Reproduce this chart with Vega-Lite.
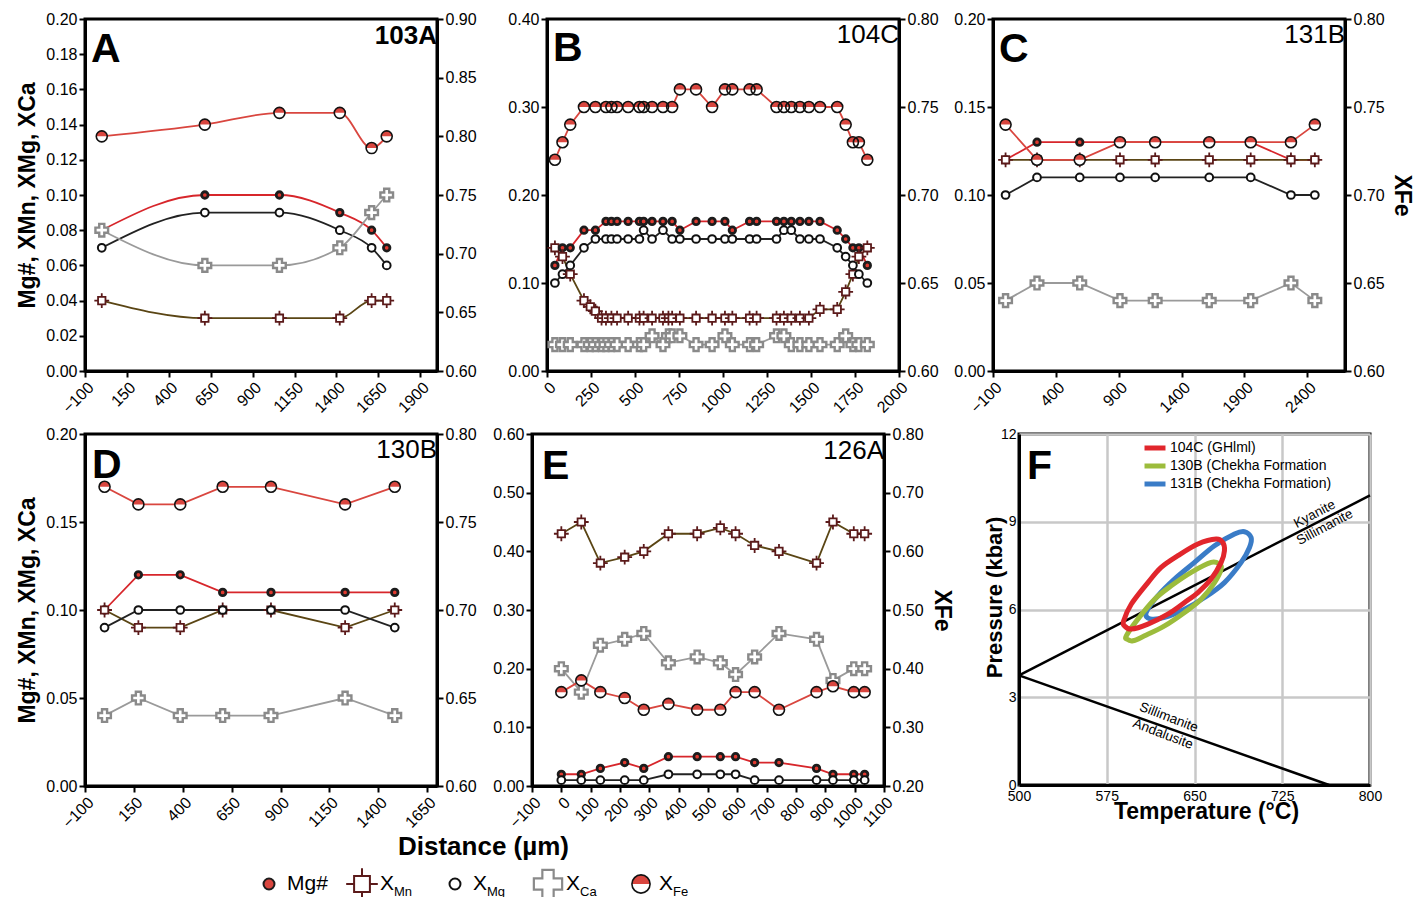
{
"$schema":"https://vega.github.io/schema/vega-lite/v6.json",
"background":"white",
"padding":{"left":15,"top":9,"right":0,"bottom":0},
"config":{
 "font":"Liberation Sans",
 "view":{"stroke":"black","strokeWidth":3},
 "axis":{"domainColor":"black","domainWidth":3,"tickColor":"black","tickWidth":2,"tickSize":6,"labelFontSize":16,"labelColor":"black","labelPadding":2,"labelFlush":false,"labelOverlap":false,"titleColor":"black","titleFontWeight":"bold","titleFontSize":23,"grid":false}
},
"datasets":{
"prof":[
{"s":"A","d":0,"mg":0.08,"mn":0.04,"xmg":0.07,"ca":0.08,"fe":0.80},
{"s":"A","d":615,"mg":0.10,"mn":0.03,"xmg":0.09,"ca":0.06,"fe":0.81},
{"s":"A","d":1060,"mg":0.10,"mn":0.03,"xmg":0.09,"ca":0.06,"fe":0.82},
{"s":"A","d":1420,"mg":0.09,"mn":0.03,"xmg":0.08,"ca":0.07,"fe":0.82},
{"s":"A","d":1610,"mg":0.08,"mn":0.04,"xmg":0.07,"ca":0.09,"fe":0.79},
{"s":"A","d":1700,"mg":0.07,"mn":0.04,"xmg":0.06,"ca":0.10,"fe":0.80},
{"s":"B","d":45,"mg":0.12,"mn":0.14,"xmg":0.10,"ca":0.03,"fe":0.72},
{"s":"B","d":88,"mg":0.14,"mn":0.13,"xmg":0.11,"ca":0.03,"fe":0.73},
{"s":"B","d":132,"mg":0.14,"mn":0.11,"xmg":0.12,"ca":0.03,"fe":0.74},
{"s":"B","d":210,"mg":0.16,"mn":0.08,"xmg":0.14,"ca":0.03,"fe":0.75},
{"s":"B","d":246,"mn":0.073,"ca":0.03},
{"s":"B","d":275,"mg":0.16,"mn":0.068,"xmg":0.15,"ca":0.03,"fe":0.75},
{"s":"B","d":310,"mn":0.06,"ca":0.03},
{"s":"B","d":335,"mg":0.17,"mn":0.06,"xmg":0.15,"ca":0.03,"fe":0.75},
{"s":"B","d":366,"mg":0.17,"mn":0.06,"xmg":0.15,"ca":0.03,"fe":0.75},
{"s":"B","d":398,"mg":0.17,"mn":0.06,"xmg":0.15,"ca":0.03,"fe":0.75},
{"s":"B","d":461,"mg":0.17,"mn":0.06,"xmg":0.15,"ca":0.03,"fe":0.75},
{"s":"B","d":525,"mg":0.17,"mn":0.06,"xmg":0.15,"ca":0.03,"fe":0.75},
{"s":"B","d":549,"mg":0.17,"mn":0.06,"xmg":0.16,"ca":0.03,"fe":0.75},
{"s":"B","d":597,"mg":0.17,"mn":0.06,"xmg":0.15,"ca":0.04,"fe":0.75},
{"s":"B","d":659,"mg":0.17,"mn":0.06,"xmg":0.16,"ca":0.03,"fe":0.75},
{"s":"B","d":690,"mn":0.06,"ca":0.04},
{"s":"B","d":711,"mg":0.17,"mn":0.06,"xmg":0.15,"ca":0.04,"fe":0.75},
{"s":"B","d":755,"mg":0.16,"mn":0.06,"xmg":0.15,"ca":0.04,"fe":0.76},
{"s":"B","d":847,"mg":0.17,"mn":0.06,"xmg":0.15,"ca":0.03,"fe":0.76},
{"s":"B","d":938,"mg":0.17,"mn":0.06,"xmg":0.15,"ca":0.03,"fe":0.75},
{"s":"B","d":1011,"mg":0.17,"mn":0.06,"xmg":0.15,"ca":0.04,"fe":0.76},
{"s":"B","d":1053,"mg":0.16,"mn":0.06,"xmg":0.15,"ca":0.03,"fe":0.76},
{"s":"B","d":1151,"mg":0.17,"mn":0.06,"xmg":0.15,"ca":0.03,"fe":0.76},
{"s":"B","d":1191,"mg":0.17,"mn":0.06,"xmg":0.15,"ca":0.03,"fe":0.76},
{"s":"B","d":1304,"mg":0.17,"mn":0.06,"xmg":0.15,"ca":0.04,"fe":0.75},
{"s":"B","d":1346,"mg":0.17,"mn":0.06,"xmg":0.16,"ca":0.04,"fe":0.75},
{"s":"B","d":1388,"mg":0.17,"mn":0.06,"xmg":0.16,"ca":0.03,"fe":0.75},
{"s":"B","d":1437,"mg":0.17,"mn":0.06,"xmg":0.15,"ca":0.03,"fe":0.75},
{"s":"B","d":1488,"mg":0.17,"mn":0.06,"xmg":0.15,"ca":0.03,"fe":0.75},
{"s":"B","d":1551,"mg":0.17,"mn":0.07,"xmg":0.15,"ca":0.03,"fe":0.75},
{"s":"B","d":1649,"mg":0.16,"mn":0.07,"xmg":0.14,"ca":0.03,"fe":0.75},
{"s":"B","d":1697,"mg":0.15,"mn":0.09,"xmg":0.13,"ca":0.04,"fe":0.74},
{"s":"B","d":1738,"mg":0.14,"mn":0.11,"xmg":0.12,"ca":0.03,"fe":0.73},
{"s":"B","d":1772,"mg":0.14,"mn":0.13,"xmg":0.11,"ca":0.03,"fe":0.73},
{"s":"B","d":1820,"mg":0.12,"mn":0.14,"xmg":0.10,"ca":0.03,"fe":0.72},
{"s":"C","d":0,"mg":0.12,"mn":0.12,"xmg":0.10,"ca":0.04,"fe":0.74},
{"s":"C","d":250,"mg":0.13,"mn":0.12,"xmg":0.11,"ca":0.05,"fe":0.72},
{"s":"C","d":590,"mg":0.13,"mn":0.12,"xmg":0.11,"ca":0.05,"fe":0.72},
{"s":"C","d":910,"mg":0.13,"mn":0.12,"xmg":0.11,"ca":0.04,"fe":0.73},
{"s":"C","d":1190,"mg":0.13,"mn":0.12,"xmg":0.11,"ca":0.04,"fe":0.73},
{"s":"C","d":1620,"mg":0.13,"mn":0.12,"xmg":0.11,"ca":0.04,"fe":0.73},
{"s":"C","d":1950,"mg":0.13,"mn":0.12,"xmg":0.11,"ca":0.04,"fe":0.73},
{"s":"C","d":2270,"mg":0.12,"mn":0.12,"xmg":0.10,"ca":0.05,"fe":0.73},
{"s":"C","d":2460,"mg":0.12,"mn":0.12,"xmg":0.10,"ca":0.04,"fe":0.74},
{"s":"D","d":0,"mg":0.10,"mn":0.10,"xmg":0.09,"ca":0.04,"fe":0.77},
{"s":"D","d":173,"mg":0.12,"mn":0.09,"xmg":0.10,"ca":0.05,"fe":0.76},
{"s":"D","d":387,"mg":0.12,"mn":0.09,"xmg":0.10,"ca":0.04,"fe":0.76},
{"s":"D","d":604,"mg":0.11,"mn":0.10,"xmg":0.10,"ca":0.04,"fe":0.77},
{"s":"D","d":851,"mg":0.11,"mn":0.10,"xmg":0.10,"ca":0.04,"fe":0.77},
{"s":"D","d":1230,"mg":0.11,"mn":0.09,"xmg":0.10,"ca":0.05,"fe":0.76},
{"s":"D","d":1484,"mg":0.11,"mn":0.10,"xmg":0.09,"ca":0.04,"fe":0.77},
{"s":"E","d":0,"mg":0.02,"mn":0.43,"xmg":0.01,"ca":0.20,"fe":0.36},
{"s":"E","d":68,"mg":0.02,"mn":0.45,"xmg":0.01,"ca":0.16,"fe":0.38},
{"s":"E","d":133,"mg":0.03,"mn":0.38,"xmg":0.01,"ca":0.24,"fe":0.36},
{"s":"E","d":216,"mg":0.04,"mn":0.39,"xmg":0.01,"ca":0.25,"fe":0.35},
{"s":"E","d":281,"mg":0.03,"mn":0.40,"xmg":0.01,"ca":0.26,"fe":0.33},
{"s":"E","d":365,"mg":0.05,"mn":0.43,"xmg":0.02,"ca":0.21,"fe":0.34},
{"s":"E","d":463,"mg":0.05,"mn":0.43,"xmg":0.02,"ca":0.22,"fe":0.33},
{"s":"E","d":542,"mg":0.05,"mn":0.44,"xmg":0.02,"ca":0.21,"fe":0.33},
{"s":"E","d":594,"mg":0.05,"mn":0.43,"xmg":0.02,"ca":0.19,"fe":0.36},
{"s":"E","d":659,"mg":0.04,"mn":0.41,"xmg":0.01,"ca":0.22,"fe":0.36},
{"s":"E","d":742,"mg":0.04,"mn":0.40,"xmg":0.01,"ca":0.26,"fe":0.33},
{"s":"E","d":870,"mg":0.03,"mn":0.38,"xmg":0.01,"ca":0.25,"fe":0.36},
{"s":"E","d":926,"mg":0.02,"mn":0.45,"xmg":0.01,"ca":0.18,"fe":0.37},
{"s":"E","d":997,"mg":0.02,"mn":0.43,"xmg":0.01,"ca":0.20,"fe":0.36},
{"s":"E","d":1034,"mg":0.02,"mn":0.43,"xmg":0.01,"ca":0.20,"fe":0.36}
],
"pt":[
{"g":"131B (Chekha Formation)","i":0,"T":608.7,"P":5.90},
{"g":"131B (Chekha Formation)","i":1,"T":618.7,"P":6.47},
{"g":"131B (Chekha Formation)","i":2,"T":632.9,"P":7.04},
{"g":"131B (Chekha Formation)","i":3,"T":650.0,"P":7.61},
{"g":"131B (Chekha Formation)","i":4,"T":667.1,"P":8.18},
{"g":"131B (Chekha Formation)","i":5,"T":684.2,"P":8.58},
{"g":"131B (Chekha Formation)","i":6,"T":692.7,"P":8.66},
{"g":"131B (Chekha Formation)","i":7,"T":698.4,"P":8.46},
{"g":"131B (Chekha Formation)","i":8,"T":697.0,"P":8.12},
{"g":"131B (Chekha Formation)","i":9,"T":689.9,"P":7.61},
{"g":"131B (Chekha Formation)","i":10,"T":675.6,"P":6.92},
{"g":"131B (Chekha Formation)","i":11,"T":658.6,"P":6.41},
{"g":"131B (Chekha Formation)","i":12,"T":641.5,"P":6.01},
{"g":"131B (Chekha Formation)","i":13,"T":624.4,"P":5.73},
{"g":"131B (Chekha Formation)","i":14,"T":612.0,"P":5.68},
{"g":"130B (Chekha Formation","i":0,"T":591.7,"P":5.10},
{"g":"130B (Chekha Formation","i":1,"T":601.6,"P":5.67},
{"g":"130B (Chekha Formation","i":2,"T":615.9,"P":6.35},
{"g":"130B (Chekha Formation","i":3,"T":630.1,"P":6.81},
{"g":"130B (Chekha Formation","i":4,"T":647.2,"P":7.27},
{"g":"130B (Chekha Formation","i":5,"T":664.2,"P":7.61},
{"g":"130B (Chekha Formation","i":6,"T":671.4,"P":7.55},
{"g":"130B (Chekha Formation","i":7,"T":672.8,"P":7.38},
{"g":"130B (Chekha Formation","i":8,"T":667.1,"P":6.92},
{"g":"130B (Chekha Formation","i":9,"T":655.7,"P":6.35},
{"g":"130B (Chekha Formation","i":10,"T":641.5,"P":5.90},
{"g":"130B (Chekha Formation","i":11,"T":624.4,"P":5.44},
{"g":"130B (Chekha Formation","i":12,"T":607.3,"P":5.10},
{"g":"130B (Chekha Formation","i":13,"T":597.4,"P":4.93},
{"g":"130B (Chekha Formation","i":14,"T":592.5,"P":4.98},
{"g":"104C (GHlml)","i":0,"T":589.4,"P":5.61},
{"g":"104C (GHlml)","i":1,"T":595.9,"P":6.18},
{"g":"104C (GHlml)","i":2,"T":610.2,"P":6.92},
{"g":"104C (GHlml)","i":3,"T":621.5,"P":7.44},
{"g":"104C (GHlml)","i":4,"T":635.8,"P":7.84},
{"g":"104C (GHlml)","i":5,"T":652.9,"P":8.24},
{"g":"104C (GHlml)","i":6,"T":668.5,"P":8.41},
{"g":"104C (GHlml)","i":7,"T":674.2,"P":8.29},
{"g":"104C (GHlml)","i":8,"T":675.6,"P":8.01},
{"g":"104C (GHlml)","i":9,"T":672.8,"P":7.61},
{"g":"104C (GHlml)","i":10,"T":664.2,"P":7.04},
{"g":"104C (GHlml)","i":11,"T":652.9,"P":6.58},
{"g":"104C (GHlml)","i":12,"T":641.5,"P":6.24},
{"g":"104C (GHlml)","i":13,"T":627.2,"P":5.84},
{"g":"104C (GHlml)","i":14,"T":610.2,"P":5.50},
{"g":"104C (GHlml)","i":15,"T":595.9,"P":5.33},
{"g":"104C (GHlml)","i":16,"T":590.2,"P":5.44}
],
"react":[
{"r":"ky","T":500,"P":3.75},{"r":"ky","T":800,"P":9.9},
{"r":"an","T":500,"P":3.75},{"r":"an","T":765,"P":0}
]
},
"spacing":3,
"vconcat":[
{"spacing":6,"vconcat":[
 {"spacing":12,"hconcat":[
  {"spacing":110,"bounds":"flush","hconcat":[
   {"width":352,"height":352,"resolve":{"scale":{"y":"independent"}},
    "layer":[
     {"layer":[
       {"data":{"name":"prof"},"transform":[{"filter":"datum.s==='A'"},{"fold":["mg","mn","xmg","ca"],"as":["series","v"]},{"filter":"isValid(datum.v)"}],
        "mark":{"type":"line","strokeWidth":1.8,"interpolate":"monotone"},
        "encoding":{
         "x":{"field":"d","type":"quantitative","scale":{"domain":[-100,2000],"nice":false,"zero":false},"axis":{"values":[-100,150,400,650,900,1150,1400,1650,1900],"tickCount":40,"format":"d","labelOverlap":false,"labelAngle":-45,"title":null}},
         "y":{"field":"v","type":"quantitative","scale":{"domain":[0,0.2],"nice":false,"zero":false},"axis":{"values":[0,0.02,0.04,0.06,0.08,0.1,0.12,0.14,0.16,0.18,0.2],"tickCount":40,"format":".2f","labelOverlap":false,"title":"Mg#, XMn, XMg, XCa","titlePadding":6}},
         "detail":{"field":"series","type":"nominal"},"color":{"condition":[{"test":"datum.series==='mg'","value":"#d7262b"},{"test":"datum.series==='mn'","value":"#5a4514"},{"test":"datum.series==='ca'","value":"#9a9a9a"}],"value":"#222222"}}},
       {"data":{"name":"prof"},"transform":[{"filter":"datum.s==='A'"},{"fold":["mg","mn","xmg","ca"],"as":["series","v"]},{"filter":"isValid(datum.v)"}],
        "mark":{"type":"point","filled":true,"opacity":1},
        "encoding":{
         "x":{"field":"d","type":"quantitative"},
         "y":{"field":"v","type":"quantitative"},
         "shape":{"condition":[{"test":"datum.series==='mn'","value":"M-0.5,-0.5H0.5V0.5H-0.5Z M0,-1V-0.5 M0,0.5V1 M-1,0H-0.5 M0.5,0H1"},{"test":"datum.series==='ca'","value":"cross"}],"value":"circle"},
         "fill":{"condition":[{"test":"datum.series==='mg'","value":"#e0392f"}],"value":"white"},
         "stroke":{"condition":[{"test":"datum.series==='mg'","value":"#1c1c1c"},{"test":"datum.series==='mn'","value":"#5b1a1a"},{"test":"datum.series==='ca'","value":"#8a8a8a"}],"value":"#111111"},
         "size":{"condition":[{"test":"datum.series==='mg'","value":42},{"test":"datum.series==='mn'","value":220},{"test":"datum.series==='ca'","value":160}],"value":60},
         "strokeWidth":{"condition":[{"test":"datum.series==='mg'","value":2.8},{"test":"datum.series==='mn'","value":1.8},{"test":"datum.series==='ca'","value":2.4}],"value":2}}},
       {"data":{"values":[{"t":"A"}]},"mark":{"type":"text","fontSize":41,"fontWeight":"bold","align":"left","baseline":"alphabetic","dx":6,"dy":43,"color":"black"},"encoding":{"x":{"datum":-100},"y":{"datum":0.2},"text":{"field":"t"}}},
       {"data":{"values":[{"t":"103A"}]},"mark":{"type":"text","fontSize":26,"fontWeight":"bold","align":"right","baseline":"alphabetic","dy":25,"color":"black"},"encoding":{"x":{"datum":2000},"y":{"datum":0.2},"text":{"field":"t"}}}
      ]},
     {"data":{"name":"prof"},"transform":[{"filter":"datum.s==='A' && isValid(datum.fe)"}],
      "encoding":{"x":{"field":"d","type":"quantitative"},"y":{"field":"fe","type":"quantitative","scale":{"domain":[0.6,0.9],"nice":false,"zero":false},"axis":{"orient":"right","values":[0.6,0.65,0.7,0.75,0.8,0.85,0.9],"tickCount":40,"format":".2f","labelOverlap":false,"title":null}}},
      "layer":[
       {"mark":{"type":"line","color":"#d9463f","strokeWidth":1.8,"interpolate":"monotone"}},
       {"mark":{"type":"point","shape":"circle","filled":true,"color":"white","size":121,"opacity":1}},
       {"mark":{"type":"point","shape":"M-1,0A1,1 0 0 1 1,0Z","filled":true,"color":"#d9463f","size":121,"opacity":1}},
       {"mark":{"type":"point","shape":"circle","filled":false,"color":"#111111","strokeWidth":1.6,"size":121,"opacity":1}}
      ]}
    ]},
   {"width":352,"height":352,"resolve":{"scale":{"y":"independent"}},
    "layer":[
     {"layer":[
       {"data":{"name":"prof"},"transform":[{"filter":"datum.s==='B'"},{"fold":["mg","mn","xmg","ca"],"as":["series","v"]},{"filter":"isValid(datum.v)"}],
        "mark":{"type":"line","strokeWidth":1.8},
        "encoding":{
         "x":{"field":"d","type":"quantitative","scale":{"domain":[0,2000],"nice":false,"zero":false},"axis":{"values":[0,250,500,750,1000,1250,1500,1750,2000],"tickCount":40,"format":"d","labelOverlap":false,"labelAngle":-45,"title":null}},
         "y":{"field":"v","type":"quantitative","scale":{"domain":[0,0.4],"nice":false,"zero":false},"axis":{"values":[0,0.1,0.2,0.3,0.4],"tickCount":40,"format":".2f","labelOverlap":false,"title":null}},
         "detail":{"field":"series","type":"nominal"},"color":{"condition":[{"test":"datum.series==='mg'","value":"#d7262b"},{"test":"datum.series==='mn'","value":"#5a4514"},{"test":"datum.series==='ca'","value":"#9a9a9a"}],"value":"#222222"}}},
       {"data":{"name":"prof"},"transform":[{"filter":"datum.s==='B'"},{"fold":["mg","mn","xmg","ca"],"as":["series","v"]},{"filter":"isValid(datum.v)"}],
        "mark":{"type":"point","filled":true,"opacity":1},
        "encoding":{
         "x":{"field":"d","type":"quantitative"},
         "y":{"field":"v","type":"quantitative"},
         "shape":{"condition":[{"test":"datum.series==='mn'","value":"M-0.5,-0.5H0.5V0.5H-0.5Z M0,-1V-0.5 M0,0.5V1 M-1,0H-0.5 M0.5,0H1"},{"test":"datum.series==='ca'","value":"cross"}],"value":"circle"},
         "fill":{"condition":[{"test":"datum.series==='mg'","value":"#e0392f"}],"value":"white"},
         "stroke":{"condition":[{"test":"datum.series==='mg'","value":"#1c1c1c"},{"test":"datum.series==='mn'","value":"#5b1a1a"},{"test":"datum.series==='ca'","value":"#8a8a8a"}],"value":"#111111"},
         "size":{"condition":[{"test":"datum.series==='mg'","value":42},{"test":"datum.series==='mn'","value":220},{"test":"datum.series==='ca'","value":160}],"value":60},
         "strokeWidth":{"condition":[{"test":"datum.series==='mg'","value":2.8},{"test":"datum.series==='mn'","value":1.8},{"test":"datum.series==='ca'","value":2.4}],"value":2}}},
       {"data":{"values":[{"t":"B"}]},"mark":{"type":"text","fontSize":41,"fontWeight":"bold","align":"left","baseline":"alphabetic","dx":6,"dy":42,"color":"black"},"encoding":{"x":{"datum":0},"y":{"datum":0.4},"text":{"field":"t"}}},
       {"data":{"values":[{"t":"104C"}]},"mark":{"type":"text","fontSize":26,"align":"right","baseline":"alphabetic","dy":24,"color":"black"},"encoding":{"x":{"datum":2000},"y":{"datum":0.4},"text":{"field":"t"}}}
      ]},
     {"data":{"name":"prof"},"transform":[{"filter":"datum.s==='B' && isValid(datum.fe)"}],
      "encoding":{"x":{"field":"d","type":"quantitative"},"y":{"field":"fe","type":"quantitative","scale":{"domain":[0.6,0.8],"nice":false,"zero":false},"axis":{"orient":"right","values":[0.6,0.65,0.7,0.75,0.8],"tickCount":40,"format":".2f","labelOverlap":false,"title":null}}},
      "layer":[
       {"mark":{"type":"line","color":"#d9463f","strokeWidth":1.8}},
       {"mark":{"type":"point","shape":"circle","filled":true,"color":"white","size":121,"opacity":1}},
       {"mark":{"type":"point","shape":"M-1,0A1,1 0 0 1 1,0Z","filled":true,"color":"#d9463f","size":121,"opacity":1}},
       {"mark":{"type":"point","shape":"circle","filled":false,"color":"#111111","strokeWidth":1.6,"size":121,"opacity":1}}
      ]}
    ]}
  ]},
  {"width":352,"height":352,"resolve":{"scale":{"y":"independent"}},
   "layer":[
    {"layer":[
      {"data":{"name":"prof"},"transform":[{"filter":"datum.s==='C'"},{"fold":["mg","mn","xmg","ca"],"as":["series","v"]},{"filter":"isValid(datum.v)"}],
       "mark":{"type":"line","strokeWidth":1.8},
       "encoding":{
        "x":{"field":"d","type":"quantitative","scale":{"domain":[-100,2700],"nice":false,"zero":false},"axis":{"values":[-100,400,900,1400,1900,2400],"tickCount":40,"format":"d","labelOverlap":false,"labelAngle":-45,"title":null}},
        "y":{"field":"v","type":"quantitative","scale":{"domain":[0,0.2],"nice":false,"zero":false},"axis":{"values":[0,0.05,0.1,0.15,0.2],"tickCount":40,"format":".2f","labelOverlap":false,"title":null}},
        "detail":{"field":"series","type":"nominal"},"color":{"condition":[{"test":"datum.series==='mg'","value":"#d7262b"},{"test":"datum.series==='mn'","value":"#5a4514"},{"test":"datum.series==='ca'","value":"#9a9a9a"}],"value":"#222222"}}},
      {"data":{"name":"prof"},"transform":[{"filter":"datum.s==='C'"},{"fold":["mg","mn","xmg","ca"],"as":["series","v"]},{"filter":"isValid(datum.v)"}],
       "mark":{"type":"point","filled":true,"opacity":1},
       "encoding":{
        "x":{"field":"d","type":"quantitative"},
        "y":{"field":"v","type":"quantitative"},
        "shape":{"condition":[{"test":"datum.series==='mn'","value":"M-0.5,-0.5H0.5V0.5H-0.5Z M0,-1V-0.5 M0,0.5V1 M-1,0H-0.5 M0.5,0H1"},{"test":"datum.series==='ca'","value":"cross"}],"value":"circle"},
        "fill":{"condition":[{"test":"datum.series==='mg'","value":"#e0392f"}],"value":"white"},
        "stroke":{"condition":[{"test":"datum.series==='mg'","value":"#1c1c1c"},{"test":"datum.series==='mn'","value":"#5b1a1a"},{"test":"datum.series==='ca'","value":"#8a8a8a"}],"value":"#111111"},
        "size":{"condition":[{"test":"datum.series==='mg'","value":42},{"test":"datum.series==='mn'","value":220},{"test":"datum.series==='ca'","value":160}],"value":60},
        "strokeWidth":{"condition":[{"test":"datum.series==='mg'","value":2.8},{"test":"datum.series==='mn'","value":1.8},{"test":"datum.series==='ca'","value":2.4}],"value":2}}},
      {"data":{"values":[{"t":"C"}]},"mark":{"type":"text","fontSize":41,"fontWeight":"bold","align":"left","baseline":"alphabetic","dx":6,"dy":43,"color":"black"},"encoding":{"x":{"datum":-100},"y":{"datum":0.2},"text":{"field":"t"}}},
      {"data":{"values":[{"t":"131B"}]},"mark":{"type":"text","fontSize":26,"align":"right","baseline":"alphabetic","dy":24,"color":"black"},"encoding":{"x":{"datum":2700},"y":{"datum":0.2},"text":{"field":"t"}}}
     ]},
    {"data":{"name":"prof"},"transform":[{"filter":"datum.s==='C' && isValid(datum.fe)"}],
     "encoding":{"x":{"field":"d","type":"quantitative"},"y":{"field":"fe","type":"quantitative","scale":{"domain":[0.6,0.8],"nice":false,"zero":false},"axis":{"orient":"right","values":[0.6,0.65,0.7,0.75,0.8],"tickCount":40,"format":".2f","labelOverlap":false,"title":"XFe","titlePadding":5}}},
     "layer":[
      {"mark":{"type":"line","color":"#d9463f","strokeWidth":1.8}},
      {"mark":{"type":"point","shape":"circle","filled":true,"color":"white","size":121,"opacity":1}},
      {"mark":{"type":"point","shape":"M-1,0A1,1 0 0 1 1,0Z","filled":true,"color":"#d9463f","size":121,"opacity":1}},
      {"mark":{"type":"point","shape":"circle","filled":false,"color":"#111111","strokeWidth":1.6,"size":121,"opacity":1}}
     ]}
   ]}
 ]},
 {"spacing":27,"hconcat":[
  {"spacing":95,"bounds":"flush","hconcat":[
   {"width":352,"height":352,"resolve":{"scale":{"y":"independent"}},
    "layer":[
     {"layer":[
       {"data":{"name":"prof"},"transform":[{"filter":"datum.s==='D'"},{"fold":["mg","mn","xmg","ca"],"as":["series","v"]},{"filter":"isValid(datum.v)"}],
        "mark":{"type":"line","strokeWidth":1.8},
        "encoding":{
         "x":{"field":"d","type":"quantitative","scale":{"domain":[-100,1700],"nice":false,"zero":false},"axis":{"values":[-100,150,400,650,900,1150,1400,1650],"tickCount":40,"format":"d","labelOverlap":false,"labelAngle":-45,"title":"Distance (µm)","titleX":398,"titleY":47,"titleFontSize":26}},
         "y":{"field":"v","type":"quantitative","scale":{"domain":[0,0.2],"nice":false,"zero":false},"axis":{"values":[0,0.05,0.1,0.15,0.2],"tickCount":40,"format":".2f","labelOverlap":false,"title":"Mg#, XMn, XMg, XCa","titlePadding":6}},
         "detail":{"field":"series","type":"nominal"},"color":{"condition":[{"test":"datum.series==='mg'","value":"#d7262b"},{"test":"datum.series==='mn'","value":"#5a4514"},{"test":"datum.series==='ca'","value":"#9a9a9a"}],"value":"#222222"}}},
       {"data":{"name":"prof"},"transform":[{"filter":"datum.s==='D'"},{"fold":["mg","mn","xmg","ca"],"as":["series","v"]},{"filter":"isValid(datum.v)"}],
        "mark":{"type":"point","filled":true,"opacity":1},
        "encoding":{
         "x":{"field":"d","type":"quantitative"},
         "y":{"field":"v","type":"quantitative"},
         "shape":{"condition":[{"test":"datum.series==='mn'","value":"M-0.5,-0.5H0.5V0.5H-0.5Z M0,-1V-0.5 M0,0.5V1 M-1,0H-0.5 M0.5,0H1"},{"test":"datum.series==='ca'","value":"cross"}],"value":"circle"},
         "fill":{"condition":[{"test":"datum.series==='mg'","value":"#e0392f"}],"value":"white"},
         "stroke":{"condition":[{"test":"datum.series==='mg'","value":"#1c1c1c"},{"test":"datum.series==='mn'","value":"#5b1a1a"},{"test":"datum.series==='ca'","value":"#8a8a8a"}],"value":"#111111"},
         "size":{"condition":[{"test":"datum.series==='mg'","value":42},{"test":"datum.series==='mn'","value":220},{"test":"datum.series==='ca'","value":160}],"value":60},
         "strokeWidth":{"condition":[{"test":"datum.series==='mg'","value":2.8},{"test":"datum.series==='mn'","value":1.8},{"test":"datum.series==='ca'","value":2.4}],"value":2}}},
       {"data":{"values":[{"t":"D"}]},"mark":{"type":"text","fontSize":41,"fontWeight":"bold","align":"left","baseline":"alphabetic","dx":7,"dy":44,"color":"black"},"encoding":{"x":{"datum":-100},"y":{"datum":0.2},"text":{"field":"t"}}},
       {"data":{"values":[{"t":"130B"}]},"mark":{"type":"text","fontSize":26,"align":"right","baseline":"alphabetic","dy":24,"color":"black"},"encoding":{"x":{"datum":1700},"y":{"datum":0.2},"text":{"field":"t"}}}
      ]},
     {"data":{"name":"prof"},"transform":[{"filter":"datum.s==='D' && isValid(datum.fe)"}],
      "encoding":{"x":{"field":"d","type":"quantitative"},"y":{"field":"fe","type":"quantitative","scale":{"domain":[0.6,0.8],"nice":false,"zero":false},"axis":{"orient":"right","values":[0.6,0.65,0.7,0.75,0.8],"tickCount":40,"format":".2f","labelOverlap":false,"title":null}}},
      "layer":[
       {"mark":{"type":"line","color":"#d9463f","strokeWidth":1.8}},
       {"mark":{"type":"point","shape":"circle","filled":true,"color":"white","size":121,"opacity":1}},
       {"mark":{"type":"point","shape":"M-1,0A1,1 0 0 1 1,0Z","filled":true,"color":"#d9463f","size":121,"opacity":1}},
       {"mark":{"type":"point","shape":"circle","filled":false,"color":"#111111","strokeWidth":1.6,"size":121,"opacity":1}}
      ]}
    ]},
   {"width":352,"height":352,"resolve":{"scale":{"y":"independent"}},
    "layer":[
     {"layer":[
       {"data":{"name":"prof"},"transform":[{"filter":"datum.s==='E'"},{"fold":["mg","mn","xmg","ca"],"as":["series","v"]},{"filter":"isValid(datum.v)"}],
        "mark":{"type":"line","strokeWidth":1.8},
        "encoding":{
         "x":{"field":"d","type":"quantitative","scale":{"domain":[-100,1100],"nice":false,"zero":false},"axis":{"values":[-100,0,100,200,300,400,500,600,700,800,900,1000,1100],"tickCount":40,"format":"d","labelOverlap":false,"labelAngle":-45,"title":null}},
         "y":{"field":"v","type":"quantitative","scale":{"domain":[0,0.6],"nice":false,"zero":false},"axis":{"values":[0,0.1,0.2,0.3,0.4,0.5,0.6],"tickCount":40,"format":".2f","labelOverlap":false,"title":null}},
         "detail":{"field":"series","type":"nominal"},"color":{"condition":[{"test":"datum.series==='mg'","value":"#d7262b"},{"test":"datum.series==='mn'","value":"#5a4514"},{"test":"datum.series==='ca'","value":"#9a9a9a"}],"value":"#222222"}}},
       {"data":{"name":"prof"},"transform":[{"filter":"datum.s==='E'"},{"fold":["mg","mn","xmg","ca"],"as":["series","v"]},{"filter":"isValid(datum.v)"}],
        "mark":{"type":"point","filled":true,"opacity":1},
        "encoding":{
         "x":{"field":"d","type":"quantitative"},
         "y":{"field":"v","type":"quantitative"},
         "shape":{"condition":[{"test":"datum.series==='mn'","value":"M-0.5,-0.5H0.5V0.5H-0.5Z M0,-1V-0.5 M0,0.5V1 M-1,0H-0.5 M0.5,0H1"},{"test":"datum.series==='ca'","value":"cross"}],"value":"circle"},
         "fill":{"condition":[{"test":"datum.series==='mg'","value":"#e0392f"}],"value":"white"},
         "stroke":{"condition":[{"test":"datum.series==='mg'","value":"#1c1c1c"},{"test":"datum.series==='mn'","value":"#5b1a1a"},{"test":"datum.series==='ca'","value":"#8a8a8a"}],"value":"#111111"},
         "size":{"condition":[{"test":"datum.series==='mg'","value":42},{"test":"datum.series==='mn'","value":220},{"test":"datum.series==='ca'","value":160}],"value":60},
         "strokeWidth":{"condition":[{"test":"datum.series==='mg'","value":2.8},{"test":"datum.series==='mn'","value":1.8},{"test":"datum.series==='ca'","value":2.4}],"value":2}}},
       {"data":{"values":[{"t":"E"}]},"mark":{"type":"text","fontSize":41,"fontWeight":"bold","align":"left","baseline":"alphabetic","dx":10,"dy":45,"color":"black"},"encoding":{"x":{"datum":-100},"y":{"datum":0.6},"text":{"field":"t"}}},
       {"data":{"values":[{"t":"126A"}]},"mark":{"type":"text","fontSize":26,"align":"right","baseline":"alphabetic","dy":25,"color":"black"},"encoding":{"x":{"datum":1100},"y":{"datum":0.6},"text":{"field":"t"}}}
      ]},
     {"data":{"name":"prof"},"transform":[{"filter":"datum.s==='E' && isValid(datum.fe)"}],
      "encoding":{"x":{"field":"d","type":"quantitative"},"y":{"field":"fe","type":"quantitative","scale":{"domain":[0.2,0.8],"nice":false,"zero":false},"axis":{"orient":"right","values":[0.2,0.3,0.4,0.5,0.6,0.7,0.8],"tickCount":40,"format":".2f","labelOverlap":false,"title":"XFe","titlePadding":6}}},
      "layer":[
       {"mark":{"type":"line","color":"#d9463f","strokeWidth":1.8}},
       {"mark":{"type":"point","shape":"circle","filled":true,"color":"white","size":121,"opacity":1}},
       {"mark":{"type":"point","shape":"M-1,0A1,1 0 0 1 1,0Z","filled":true,"color":"#d9463f","size":121,"opacity":1}},
       {"mark":{"type":"point","shape":"circle","filled":false,"color":"#111111","strokeWidth":1.6,"size":121,"opacity":1}}
      ]}
    ]}
  ]},
  {"width":351,"height":351,
   "layer":[
    {"data":{"name":"react"},"mark":{"type":"line","color":"black","strokeWidth":2.5},
     "encoding":{
      "x":{"field":"T","type":"quantitative","scale":{"domain":[500,800],"nice":false,"zero":false},"axis":{"values":[500,575,650,725,800],"tickCount":40,"format":"d","labelOverlap":false,"grid":true,"gridColor":"#c8c8c8","gridWidth":2.5,"tickSize":0,"labelFontSize":14,"labelPadding":4,"labelAngle":0,"title":"Temperature (°C)","titleFontSize":23,"titlePadding":-3,"titleX":187}},
      "y":{"field":"P","type":"quantitative","scale":{"domain":[0,12],"nice":false,"zero":false},"axis":{"values":[0,3,6,9,12],"tickCount":40,"format":"d","labelOverlap":false,"grid":true,"gridColor":"#c8c8c8","gridWidth":2.5,"tickSize":0,"labelFontSize":14,"labelPadding":3,"title":"Pressure (kbar)","titleFontSize":22,"titlePadding":-6,"titleY":163}},
      "detail":{"field":"r","type":"nominal"}}},
    {"data":{"name":"pt"},"mark":{"type":"line","interpolate":"cardinal-closed","strokeWidth":5},
     "encoding":{
      "x":{"field":"T","type":"quantitative"},
      "y":{"field":"P","type":"quantitative"},
      "color":{"field":"g","type":"nominal","scale":{"domain":["104C (GHlml)","130B (Chekha Formation","131B (Chekha Formation)"],"range":["#e1262c","#9cbc3c","#3a7cc7"]},
        "legend":{"orient":"none","legendX":1062,"legendY":421,"title":null,"symbolType":"M-2,0H2","symbolSize":110,"symbolStrokeWidth":5,"labelFontSize":14,"labelOffset":7,"rowPadding":-2,"padding":0,"labelColor":"black","labelLimit":300}},
      "order":{"field":"i","type":"quantitative"}}},
    {"data":{"values":[{"lab":"Kyanite","T":752.7,"P":9.26},{"lab":"Sillimanite","T":761.3,"P":8.81}]},"mark":{"type":"text","angle":-28,"fontSize":13.5,"color":"black"},
     "encoding":{"x":{"field":"T","type":"quantitative"},"y":{"field":"P","type":"quantitative"},"text":{"field":"lab"}}},
    {"data":{"values":[{"lab":"Sillimanite","T":628,"P":2.31},{"lab":"Andalusite","T":623,"P":1.74}]},"mark":{"type":"text","angle":21,"fontSize":13.5,"color":"black"},
     "encoding":{"x":{"field":"T","type":"quantitative"},"y":{"field":"P","type":"quantitative"},"text":{"field":"lab"}}},
    {"data":{"values":[{"t":"F"}]},"mark":{"type":"text","fontSize":41,"fontWeight":"bold","align":"left","baseline":"alphabetic","dx":8,"dy":45,"color":"black"},
     "encoding":{"x":{"datum":500},"y":{"datum":12},"text":{"field":"t"}}}
   ]}
 ]}
]},
{"width":700,"height":24,"view":{"stroke":null},
 "data":{"values":[{"series":"mg","lab":"Mg#","sub":""},{"series":"mn","lab":"X","sub":"Mn"},{"series":"xmg","lab":"X","sub":"Mg"},{"series":"ca","lab":"X","sub":"Ca"},{"series":"fe","lab":"X","sub":"Fe"}]},
 "encoding":{"x":{"field":"series","type":"nominal","scale":{"type":"point","domain":["mg","mn","xmg","ca","fe"],"range":[184,556],"padding":0},"axis":null}},
 "layer":[
  {"transform":[{"filter":"datum.series!=='fe'"}],"mark":{"type":"point","filled":true,"opacity":1},
   "encoding":{
    "shape":{"condition":[{"test":"datum.series==='mn'","value":"M-0.5,-0.5H0.5V0.5H-0.5Z M0,-1V-0.5 M0,0.5V1 M-1,0H-0.5 M0.5,0H1"},{"test":"datum.series==='ca'","value":"cross"}],"value":"circle"},
    "fill":{"condition":[{"test":"datum.series==='mg'","value":"#d9463f"}],"value":"white"},
    "stroke":{"condition":[{"test":"datum.series==='mg'","value":"#1c1c1c"},{"test":"datum.series==='mn'","value":"#5b1a1a"},{"test":"datum.series==='ca'","value":"#8a8a8a"}],"value":"#111111"},
    "size":{"condition":[{"test":"datum.series==='mg'","value":120},{"test":"datum.series==='mn'","value":1000},{"test":"datum.series==='ca'","value":800}],"value":120},
    "strokeWidth":{"condition":[{"test":"datum.series==='mg'","value":2},{"test":"datum.series==='mn'","value":2},{"test":"datum.series==='ca'","value":2.2}],"value":2}}},
  {"transform":[{"filter":"datum.series==='fe'"}],"mark":{"type":"point","shape":"circle","filled":true,"color":"white","size":330,"opacity":1}},
  {"transform":[{"filter":"datum.series==='fe'"}],"mark":{"type":"point","shape":"M-1,0A1,1 0 0 1 1,0Z","filled":true,"color":"#d9463f","size":330,"opacity":1}},
  {"transform":[{"filter":"datum.series==='fe'"}],"mark":{"type":"point","shape":"circle","filled":false,"color":"#111111","strokeWidth":1.6,"size":330,"opacity":1}},
  {"mark":{"type":"text","align":"left","baseline":"middle","dx":18,"fontSize":21,"color":"black"},"encoding":{"text":{"field":"lab"}}},
  {"mark":{"type":"text","align":"left","baseline":"middle","dx":32,"dy":8,"fontSize":13,"color":"black"},"encoding":{"text":{"field":"sub"}}}
 ]}
]
}
